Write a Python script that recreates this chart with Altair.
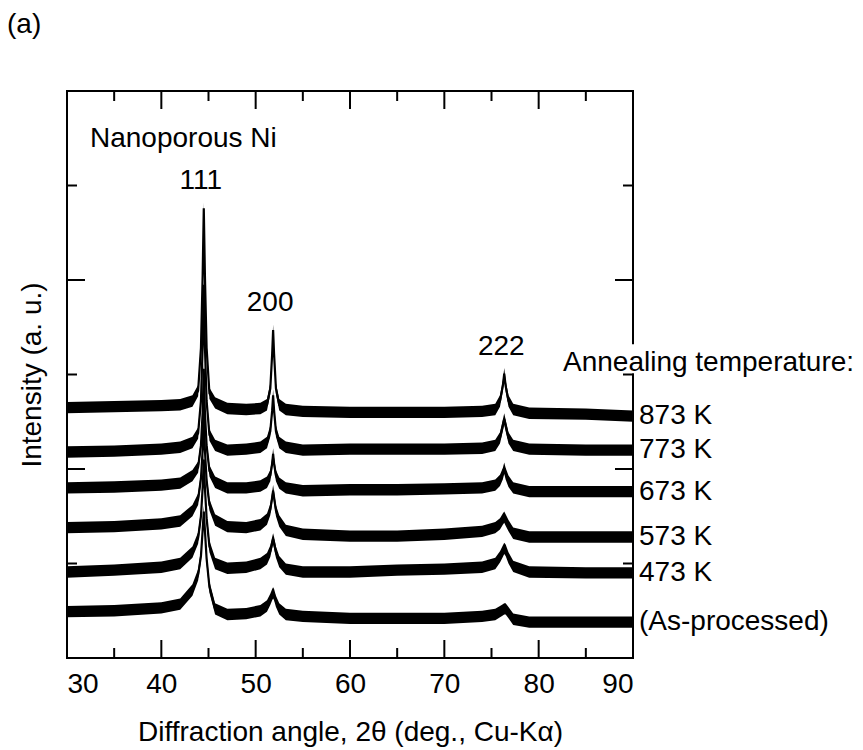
import altair as alt
import pandas as pd

# ---------------- data ----------------
angles = [30, 35, 40, 42, 43.3, 43.9, 44.2, 44.38, 44.5, 44.62, 44.8, 45.1, 45.7,
          47, 49, 50.5, 51.2, 51.55, 51.75, 51.85, 51.95, 52.15, 52.5, 53.2,
          55, 60, 65, 70, 74, 75.4, 75.9, 76.2, 76.35, 76.5, 76.8, 77.3, 79, 85, 90]

i873 = [2.65, 2.66, 2.67, 2.68, 2.72, 2.83, 3.28, 4.05, 4.76, 4.05, 3.28, 2.80, 2.70,
        2.64, 2.63, 2.64, 2.68, 2.85, 3.22, 3.47, 3.22, 2.85, 2.68, 2.63,
        2.61, 2.60, 2.60, 2.60, 2.61, 2.63, 2.72, 2.88, 3.01, 2.88, 2.72, 2.63, 2.59, 2.58, 2.56]
i773 = [2.18, 2.19, 2.21, 2.23, 2.28, 2.38, 2.72, 3.30, 3.95, 3.30, 2.72, 2.36, 2.25,
        2.20, 2.21, 2.23, 2.28, 2.40, 2.62, 2.78, 2.62, 2.40, 2.28, 2.23,
        2.20, 2.21, 2.21, 2.21, 2.22, 2.25, 2.33, 2.46, 2.53, 2.46, 2.33, 2.25, 2.21, 2.20, 2.20]
i673 = [1.80, 1.81, 1.83, 1.85, 1.93, 2.02, 2.25, 2.60, 3.06, 2.60, 2.25, 1.98, 1.86,
        1.80, 1.80, 1.82, 1.86, 1.93, 2.06, 2.16, 2.06, 1.93, 1.85, 1.80,
        1.77, 1.78, 1.78, 1.79, 1.80, 1.83, 1.88, 1.95, 2.01, 1.95, 1.87, 1.80, 1.76, 1.76, 1.76]
i573 = [1.38, 1.39, 1.42, 1.45, 1.56, 1.68, 1.90, 2.20, 2.62, 2.20, 1.88, 1.62, 1.46,
        1.39, 1.38, 1.41, 1.47, 1.57, 1.70, 1.77, 1.70, 1.56, 1.45, 1.35,
        1.31, 1.29, 1.29, 1.31, 1.34, 1.38, 1.42, 1.47, 1.49, 1.46, 1.40, 1.32, 1.28, 1.28, 1.28]
i473 = [0.91, 0.93, 0.96, 1.00, 1.12, 1.27, 1.50, 1.80, 2.10, 1.80, 1.48, 1.18, 1.00,
        0.95, 0.96, 1.00, 1.05, 1.13, 1.22, 1.26, 1.22, 1.12, 1.02, 0.94,
        0.91, 0.91, 0.93, 0.94, 0.96, 1.00, 1.07, 1.13, 1.16, 1.14, 1.06, 0.97, 0.91, 0.90, 0.90]
i_as = [0.49, 0.50, 0.53, 0.57, 0.72, 0.88, 1.08, 1.35, 1.55, 1.35, 1.05, 0.75, 0.52,
        0.46, 0.47, 0.50, 0.55, 0.62, 0.67, 0.69, 0.67, 0.60, 0.52, 0.46,
        0.44, 0.42, 0.42, 0.42, 0.44, 0.46, 0.49, 0.51, 0.52, 0.52, 0.48, 0.41, 0.38, 0.38, 0.38]

series_names = ["873 K", "773 K", "673 K", "573 K", "473 K", "(As-processed)"]
series_values = [i873, i773, i673, i573, i473, i_as]

peak_labels = ["111", "200", "222"]
peak_angles = [44.5, 51.85, 76.35]

x_ticks_major = [30, 40, 50, 60, 70, 80, 90]
x_ticks_minor = [35, 45, 55, 65, 75, 85]
y_ticks_major = [2, 4]
y_ticks_minor = [1, 3, 5]

X_MIN, X_MAX = 30, 90
Y_MIN, Y_MAX = 0, 6

# ---------------- styling ----------------
W, H = 566, 567
FONT = "Liberation Sans"
FS = 28
BAND = 0.06           # half thickness of the noisy trace band (intensity units)
MAJOR_PX, MINOR_PX = 17, 9
px_x = W / (X_MAX - X_MIN)
px_y = H / (Y_MAX - Y_MIN)

rows = []
for name, vals in zip(series_names, series_values):
    for a, v in zip(angles, vals):
        rows.append({"series": name, "angle": a, "I": v})
df = pd.DataFrame(rows)

xs = alt.Scale(domain=[X_MIN, X_MAX], nice=False, zero=False)
ys = alt.Scale(domain=[Y_MIN, Y_MAX], nice=False, zero=False)

x_axis = alt.Axis(
    values=x_ticks_major, format="d", title="Diffraction angle, 2θ (deg., Cu-Kα)",
    labelFont=FONT, titleFont=FONT, labelFontSize=FS, titleFontSize=FS,
    titleFontWeight="normal", labelColor="black", titleColor="black",
    domain=False, ticks=False, grid=False, labelPadding=12, titlePadding=20)
y_axis = alt.Axis(
    title="Intensity (a. u.)", labels=False, ticks=False, domain=False, grid=False,
    titleFont=FONT, titleFontSize=FS, titleFontWeight="normal", titleColor="black",
    titlePadding=21)


def X(f):
    return alt.X(f, scale=xs, axis=x_axis)


def Y(f):
    return alt.Y(f, scale=ys, axis=y_axis)


band = alt.Chart(df).transform_calculate(
    lo=f"datum.I - {BAND}", hi=f"datum.I + {BAND}"
).mark_area(color="black", opacity=1).encode(
    x=X("angle:Q"), y=Y("lo:Q"), y2="hi:Q", detail="series:N",
)

line = alt.Chart(df).mark_line(color="black", strokeWidth=2.2).encode(
    x=X("angle:Q"), y=Y("I:Q"), detail="series:N",
)

# frame (right side interrupted by the "Annealing temperature:" label)
frame_df = pd.DataFrame({
    "x":  [X_MIN, X_MIN, X_MIN, X_MAX, X_MAX],
    "x2": [X_MAX, X_MAX, X_MIN, X_MAX, X_MAX],
    "y":  [Y_MIN, Y_MAX, Y_MIN, Y_MIN, 3.33],
    "y2": [Y_MIN, Y_MAX, Y_MAX, 3.0, Y_MAX],
})

tick_rows = []
for t in x_ticks_major + x_ticks_minor:
    L = (MAJOR_PX if t in x_ticks_major else MINOR_PX) / px_y
    tick_rows.append({"x": t, "x2": t, "y": Y_MIN, "y2": Y_MIN + L})
    tick_rows.append({"x": t, "x2": t, "y": Y_MAX, "y2": Y_MAX - L})
for t in y_ticks_major + y_ticks_minor:
    L = (MAJOR_PX if t in y_ticks_major else MINOR_PX) / px_x
    tick_rows.append({"x": X_MIN, "x2": X_MIN + L, "y": t, "y2": t})
    tick_rows.append({"x": X_MAX, "x2": X_MAX - L, "y": t, "y2": t})
ticks_df = pd.DataFrame(tick_rows)


def rules(d):
    return alt.Chart(d).mark_rule(color="black", strokeWidth=2, strokeCap="square").encode(
        x=X("x:Q"), x2="x2:Q", y=Y("y:Q"), y2="y2:Q",
    )


frame = rules(frame_df)
ticks = rules(ticks_df)

# series labels at right end of each trace
lab_df = pd.DataFrame({"name": series_names, "x": [X_MAX] * 6,
                       "y": [v[-1] for v in series_values]})
series_text = alt.Chart(lab_df).mark_text(
    align="left", baseline="middle", dx=6, font=FONT, fontSize=FS, color="black"
).encode(x=X("x:Q"), y=Y("y:Q"), text="name:N")

# hkl labels above peaks of the top trace
pk_df = pd.DataFrame({"hkl": peak_labels, "angle": peak_angles,
                      "top": [i873[angles.index(a)] for a in peak_angles]})
peak_text = alt.Chart(pk_df).mark_text(
    align="center", baseline="middle", dy=-27, dx=-3, font=FONT, fontSize=FS, color="black"
).encode(x=X("angle:Q"), y=Y("top:Q"), text="hkl:N")


def note(txt, x, y):
    return alt.Chart(pd.DataFrame({"t": [txt]})).mark_text(
        align="left", baseline="middle", font=FONT, fontSize=FS, color="black"
    ).encode(x=alt.value(x), y=alt.value(y), text="t:N")


chart = alt.layer(
    band, line, frame, ticks, series_text, peak_text,
    note("Nanoporous Ni", 23, 48),
    note("Annealing temperature:", 496, 272),
    note("(a)", -60, -66),
).properties(
    width=W, height=H,
    padding={"left": 67, "top": 91, "right": 230, "bottom": 92},
    autosize=alt.AutoSizeParams(type="none"),
).configure_view(stroke=None)

chart.save("out.html", embed_options={"renderer": "svg", "actions": False})
